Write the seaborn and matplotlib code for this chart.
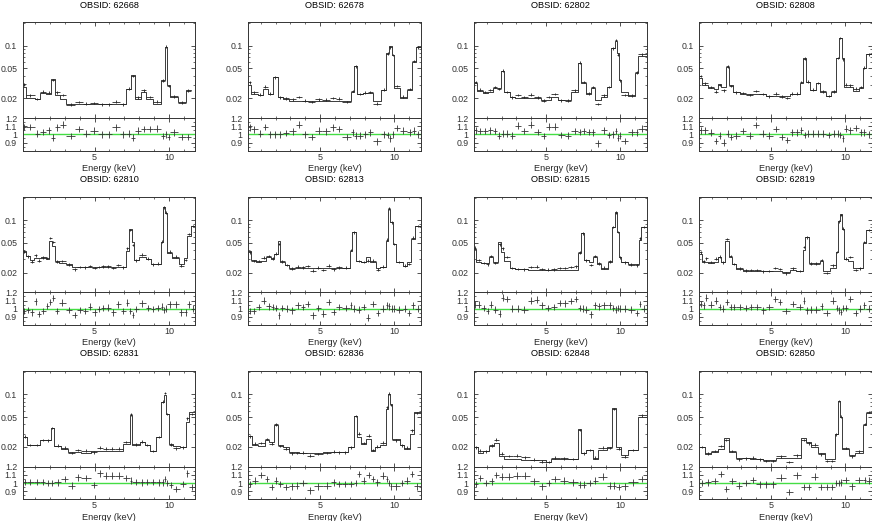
import numpy as np
import pandas as pd
import seaborn as sns
import matplotlib.pyplot as plt
from matplotlib.ticker import (FixedLocator, FixedFormatter, MultipleLocator,
                               LogLocator, NullFormatter)

# OBSID order, row by row
obsids = ["62668", "62678", "62802", "62808",
          "62810", "62813", "62815", "62819",
          "62831", "62836", "62848", "62850"]

# bin edges (keV), model counts per bin, data/model ratio per bin
edges_62668 = [0.17, 0.36, 0.97, 1.31, 1.75, 2.09, 2.31, 2.65, 3.10, 3.70, 4.20, 4.70, 5.25, 5.70, 6.20,
               6.70, 7.10, 7.47, 7.70, 8.14, 8.48, 8.93, 9.49, 9.76, 9.89, 10.10, 10.61, 11.17, 11.46]
model_62668 = [0.028, 0.020, 0.0194, 0.0238, 0.0226, 0.0365, 0.022, 0.0196, 0.0168, 0.0168, 0.0167, 0.0166,
               0.0166, 0.0166, 0.0166, 0.0166, 0.0266, 0.041, 0.0196, 0.024, 0.0194, 0.0168, 0.035, 0.097,
               0.030, 0.0206, 0.018, 0.026]
ratio_62668 = [1.09, 1.09, 1.01, 1.03, 1.05, 0.96, 1.085, 1.12, 0.98, 1.065, 1.01, 1.045, 1.0, 1.0, 1.085,
               1.0, 1.01, 0.96, 1.045, 1.065, 1.065, 1.07, 0.98, 1.0, 0.97, 1.025, 0.97, 0.97]

edges_62678 = [0.17, 0.36, 0.81, 1.15, 1.49, 1.82, 2.16, 2.49, 2.94, 3.35, 3.80, 4.20, 4.65, 5.15, 5.65,
               6.05, 6.50, 7.09, 7.31, 7.49, 7.88, 8.20, 8.55, 9.11, 9.45, 9.62, 9.83, 9.94, 10.34, 10.84,
               11.19, 11.42, 11.77]
model_62678 = [0.030, 0.0227, 0.022, 0.0262, 0.023, 0.038, 0.0205, 0.0196, 0.0186, 0.0185, 0.0185, 0.0185,
               0.0185, 0.0185, 0.0185, 0.0185, 0.0185, 0.0244, 0.054, 0.023, 0.0237, 0.0237, 0.0185, 0.026,
               0.079, 0.10, 0.075, 0.027, 0.020, 0.026, 0.06, 0.095]
ratio_62678 = [1.085, 1.06, 1.01, 1.09, 1.0, 1.0, 1.0, 1.015, 1.035, 1.12, 1.0, 0.965, 1.045, 1.035, 1.085,
               1.065, 0.965, 1.025, 0.985, 0.985, 1.0, 1.025, 0.915, 1.0, 0.99, 0.95, 1.0, 1.08, 1.045,
               1.025, 1.045, 1.0]

edges_62802 = [0.17, 0.36, 0.75, 1.08, 1.42, 1.70, 1.98, 2.20, 2.54, 2.88, 3.30, 3.75, 4.20, 4.67, 5.00,
               5.34, 5.79, 6.25, 6.69, 7.14, 7.36, 7.70, 8.03, 8.30, 8.71, 9.11, 9.38, 9.60, 9.74, 9.87,
               10.05, 10.50, 10.99, 11.17, 11.77]
model_62802 = [0.0315, 0.0249, 0.0232, 0.0244, 0.027, 0.027, 0.046, 0.024, 0.0209, 0.0199, 0.0199, 0.0199,
               0.0199, 0.0189, 0.0189, 0.0209, 0.0189, 0.0189, 0.0244, 0.058, 0.0315, 0.0225, 0.0276,
               0.0189, 0.0209, 0.0284, 0.092, 0.115, 0.079, 0.035, 0.024, 0.0213, 0.043, 0.072]
ratio_62802 = [1.05, 1.04, 1.04, 1.05, 1.04, 0.985, 1.01, 1.01, 0.985, 1.105, 1.04, 1.12, 1.03, 0.98,
               1.095, 1.095, 0.99, 0.985, 1.04, 1.03, 1.04, 1.03, 1.025, 0.89, 1.05, 0.99, 1.0, 1.04,
               0.96, 0.985, 0.92, 1.025, 1.025, 1.07]

edges_62808 = [0.17, 0.36, 0.75, 1.19, 1.42, 1.64, 1.98, 2.20, 2.43, 2.88, 3.30, 3.80, 4.20, 4.67, 5.10,
               5.50, 5.90, 6.24, 6.60, 6.91, 7.14, 7.36, 7.63, 7.99, 8.26, 8.71, 9.04, 9.38, 9.56, 9.74,
               9.87, 10.16, 10.50, 10.90, 11.17, 11.35, 11.77]
model_62808 = [0.0375, 0.0299, 0.0276, 0.0265, 0.0305, 0.0284, 0.0525, 0.030, 0.0244, 0.0225, 0.0225,
               0.0225, 0.0225, 0.0216, 0.0216, 0.0216, 0.0216, 0.0225, 0.0225, 0.0315, 0.068, 0.033,
               0.0257, 0.0315, 0.0244, 0.0216, 0.0244, 0.068, 0.128, 0.069, 0.0284, 0.0284, 0.0249,
               0.0276, 0.05, 0.077]
ratio_62808 = [1.05, 1.05, 1.02, 0.92, 0.985, 0.9, 1.01, 0.97, 0.985, 1.04, 0.985, 1.115, 1.01, 0.985,
               1.065, 0.97, 0.93, 1.025, 1.025, 1.05, 0.99, 1.01, 1.01, 1.01, 1.01, 0.99, 1.01, 1.01,
               0.99, 0.95, 1.07, 1.05, 1.08, 1.025, 1.025, 1.0]

edges_62810 = [0.17, 0.36, 0.63, 0.92, 1.15, 1.37, 1.71, 1.93, 2.11, 2.34, 2.61, 3.05, 3.50, 3.85, 4.20,
               4.55, 4.85, 5.15, 5.45, 5.75, 6.10, 6.45, 6.75, 7.09, 7.31, 7.49, 7.65, 7.99, 8.44, 8.77,
               9.10, 9.45, 9.60, 9.71, 9.89, 10.23, 10.68, 11.01, 11.24, 11.46, 11.77]
model_62810 = [0.039, 0.0335, 0.0293, 0.031, 0.031, 0.0325, 0.0303, 0.053, 0.0455, 0.0288, 0.0265, 0.026,
               0.024, 0.024, 0.024, 0.024, 0.024, 0.024, 0.024, 0.024, 0.024, 0.024, 0.024, 0.039, 0.076,
               0.0505, 0.0293, 0.0325, 0.0303, 0.026, 0.026, 0.0505, 0.15, 0.126, 0.036, 0.031, 0.026,
               0.031, 0.062, 0.084]
ratio_62810 = [0.975, 0.985, 0.955, 1.09, 0.935, 0.975, 1.035, 1.085, 1.13, 0.975, 1.075, 0.985, 0.925,
               0.985, 0.975, 1.025, 0.955, 0.995, 1.01, 1.015, 0.955, 1.055, 0.975, 1.075, 0.975, 0.925,
               0.995, 1.065, 1.01, 0.995, 1.01, 1.025, 0.985, 1.0, 1.055, 1.055, 0.955, 0.955, 1.055, 1.0]

edges_62813 = [0.17, 0.36, 0.70, 1.04, 1.37, 1.71, 1.93, 2.16, 2.27, 2.61, 2.94, 3.30, 3.70, 4.00, 4.35,
               4.70, 5.05, 5.40, 5.75, 6.10, 6.50, 6.98, 7.16, 7.43, 7.76, 8.10, 8.37, 8.73, 9.00, 9.40,
               9.56, 9.71, 9.89, 10.07, 10.57, 10.83, 11.13, 11.35, 11.77]
model_62813 = [0.0383, 0.0293, 0.028, 0.0287, 0.0325, 0.0303, 0.0353, 0.052, 0.028, 0.0254, 0.023, 0.023,
               0.023, 0.023, 0.023, 0.023, 0.023, 0.023, 0.023, 0.023, 0.023, 0.0383, 0.0686, 0.0287,
               0.0273, 0.0325, 0.0273, 0.023, 0.024, 0.053, 0.14, 0.093, 0.048, 0.028, 0.0247, 0.0273,
               0.056, 0.084]
ratio_62813 = [0.97, 0.97, 1.02, 1.1, 1.03, 1.02, 1.01, 0.92, 1.01, 1.0, 0.98, 1.04, 1.02, 1.06, 0.92,
               1.01, 0.94, 1.08, 0.96, 1.02, 1.01, 1.04, 1.0, 0.99, 1.02, 0.89, 1.06, 0.95, 1.0, 1.04,
               1.03, 1.0, 1.0, 0.99, 1.0, 0.95, 1.04, 1.0]

edges_62815 = [0.17, 0.30, 0.63, 0.95, 1.19, 1.42, 1.75, 1.98, 2.20, 2.54, 2.88, 3.30, 3.77, 4.20, 4.55,
               4.95, 5.30, 5.70, 6.10, 6.50, 6.85, 7.14, 7.36, 7.54, 7.85, 8.14, 8.44, 8.70, 9.15, 9.42,
               9.60, 9.74, 9.87, 10.05, 10.50, 10.95, 11.22, 11.40, 11.77]
model_62815 = [0.0411, 0.028, 0.0265, 0.0265, 0.0319, 0.0273, 0.0505, 0.0371, 0.0287, 0.023, 0.0224,
               0.0224, 0.0216, 0.0216, 0.0216, 0.0216, 0.0216, 0.0216, 0.0216, 0.0216, 0.0216, 0.037,
               0.0665, 0.0293, 0.0273, 0.0319, 0.0257, 0.0224, 0.0273, 0.08, 0.127, 0.069, 0.0319,
               0.0273, 0.0257, 0.0262, 0.054, 0.081]
ratio_62815 = [1.05, 1.05, 1.01, 0.97, 1.05, 0.99, 0.94, 1.135, 1.12, 1.0, 1.0, 0.99, 1.1, 1.11, 1.04,
               1.01, 1.02, 1.07, 1.065, 1.095, 1.12, 1.01, 1.0, 0.99, 0.93, 1.04, 1.03, 1.04, 1.04, 1.01,
               0.99, 1.01, 1.0, 1.0, 0.99, 0.95, 1.06, 1.0]

edges_62819 = [0.17, 0.36, 0.55, 0.75, 1.19, 1.42, 1.64, 1.93, 2.16, 2.38, 2.65, 3.10, 3.50, 3.85, 4.30,
               4.67, 5.10, 5.45, 5.75, 6.24, 6.69, 7.14, 7.31, 7.54, 7.81, 8.26, 8.52, 8.93, 9.33, 9.49,
               9.60, 9.74, 9.87, 10.16, 10.50, 10.85, 11.17, 11.35, 11.77]
model_62819 = [0.0352, 0.0273, 0.0273, 0.0265, 0.028, 0.0319, 0.0273, 0.052, 0.0325, 0.0257, 0.0224,
               0.0212, 0.0212, 0.0212, 0.0212, 0.0207, 0.0207, 0.0207, 0.0202, 0.0216, 0.0207, 0.0398,
               0.06, 0.0265, 0.0265, 0.0287, 0.0207, 0.0228, 0.0371, 0.098, 0.122, 0.076, 0.0303, 0.0287,
               0.0228, 0.0228, 0.049, 0.074]
ratio_62819 = [1.06, 1.04, 1.135, 1.05, 1.1, 1.02, 1.0, 1.08, 1.02, 1.02, 1.02, 1.01, 1.02, 1.02, 0.98,
               1.02, 1.12, 1.08, 0.97, 1.06, 1.02, 1.1, 0.98, 0.99, 0.99, 1.03, 0.95, 1.1, 1.01, 0.98,
               0.96, 1.01, 1.01, 1.12, 0.95, 1.0, 1.04, 1.0]

edges_62831 = [0.17, 0.48, 0.90, 1.31, 1.70, 2.05, 2.27, 2.76, 3.21, 3.70, 4.11, 4.78, 5.20, 5.57, 6.00,
               6.35, 6.91, 7.36, 7.52, 8.03, 8.37, 8.70, 9.15, 9.49, 9.67, 9.83, 9.98, 10.27, 10.72,
               11.17, 11.33, 11.77]
model_62831 = [0.027, 0.0209, 0.0209, 0.0244, 0.0244, 0.0356, 0.0206, 0.0186, 0.0171, 0.0171, 0.0168,
               0.0174, 0.0174, 0.0174, 0.0174, 0.0174, 0.022, 0.0525, 0.0214, 0.0232, 0.0209, 0.0174,
               0.027, 0.079, 0.099, 0.055, 0.022, 0.0206, 0.020, 0.043, 0.058]
ratio_62831 = [1.015, 1.015, 1.015, 1.015, 1.0, 1.0, 1.01, 1.05, 0.97, 1.07, 1.06, 0.975, 1.12, 1.09,
               1.09, 1.09, 1.06, 1.03, 1.015, 1.01, 1.015, 1.015, 1.01, 1.01, 1.05, 1.0, 0.975, 0.93,
               0.99, 1.12, 0.95]

edges_62836 = [0.17, 0.43, 0.81, 1.26, 1.55, 1.93, 2.16, 2.49, 2.94, 3.30, 3.61, 4.10, 4.60, 5.18, 5.70,
               6.10, 6.50, 6.87, 7.31, 7.47, 7.76, 8.10, 8.44, 8.66, 9.00, 9.45, 9.56, 9.67, 9.80, 10.34,
               10.61, 11.06, 11.29, 11.77]
model_62836 = [0.0279, 0.0214, 0.0206, 0.0244, 0.0232, 0.0387, 0.0209, 0.020, 0.0171, 0.0171, 0.0168,
               0.0168, 0.0168, 0.0171, 0.0171, 0.0171, 0.0171, 0.020, 0.0515, 0.027, 0.022, 0.0257,
               0.0174, 0.020, 0.0209, 0.064, 0.102, 0.075, 0.0255, 0.0209, 0.019, 0.030, 0.059]
ratio_62836 = [0.99, 1.03, 1.1, 1.05, 0.95, 1.03, 0.99, 0.95, 0.96, 0.97, 1.0, 0.91, 0.96, 0.97, 1.01,
               0.99, 0.99, 0.99, 1.0, 1.11, 1.03, 1.1, 1.05, 1.01, 1.09, 1.05, 1.0, 0.96, 0.96, 1.0,
               1.03, 1.11, 0.96]

edges_62848 = [0.17, 0.41, 0.75, 1.19, 1.49, 1.82, 2.20, 2.75, 3.32, 3.90, 4.50, 5.01, 5.34, 5.90, 6.50,
               7.14, 7.36, 7.70, 8.14, 8.48, 9.11, 9.42, 9.71, 10.05, 10.50, 11.17, 11.77]
model_62848 = [0.020, 0.0168, 0.0174, 0.0206, 0.0228, 0.0151, 0.014, 0.014, 0.0133, 0.0133, 0.0133,
               0.0126, 0.0137, 0.0137, 0.0137, 0.0342, 0.0168, 0.0181, 0.014, 0.0181, 0.020, 0.0658,
               0.020, 0.0154, 0.0181, 0.05]
ratio_62848 = [0.99, 1.06, 1.0, 1.02, 1.1, 1.08, 1.08, 1.09, 1.09, 1.02, 0.96, 1.0, 1.05, 1.03, 1.01,
               0.98, 0.98, 1.0, 1.03, 1.08, 0.97, 0.97, 0.95, 0.96, 1.01, 1.05]

edges_62850 = [0.17, 0.52, 0.97, 1.42, 1.80, 2.14, 2.61, 3.05, 3.55, 4.00, 4.44, 4.90, 5.34, 6.01, 6.45,
               7.02, 7.36, 7.70, 8.14, 8.59, 8.95, 9.27, 9.49, 9.60, 9.78, 10.23, 10.61, 11.17, 11.40,
               11.77]
model_62850 = [0.0199, 0.0162, 0.0172, 0.0185, 0.0265, 0.0172, 0.0141, 0.0141, 0.0138, 0.0138, 0.0132,
               0.0132, 0.0141, 0.0141, 0.0141, 0.026, 0.0235, 0.0199, 0.0168, 0.0136, 0.0136, 0.0294,
               0.0815, 0.05, 0.0185, 0.0156, 0.0168, 0.039, 0.057]
ratio_62850 = [1.0, 1.01, 1.025, 1.11, 0.93, 1.025, 0.97, 1.0, 1.04, 0.985, 0.985, 0.985, 1.065, 0.89,
               1.095, 0.95, 0.95, 1.08, 0.95, 0.95, 0.95, 1.0, 1.0, 1.01, 1.04, 0.96, 1.04, 1.04, 1.03]

panels = [
    (edges_62668, model_62668, ratio_62668), (edges_62678, model_62678, ratio_62678),
    (edges_62802, model_62802, ratio_62802), (edges_62808, model_62808, ratio_62808),
    (edges_62810, model_62810, ratio_62810), (edges_62813, model_62813, ratio_62813),
    (edges_62815, model_62815, ratio_62815), (edges_62819, model_62819, ratio_62819),
    (edges_62831, model_62831, ratio_62831), (edges_62836, model_62836, ratio_62836),
    (edges_62848, model_62848, ratio_62848), (edges_62850, model_62850, ratio_62850),
]

sns.set_theme(style="ticks")
plt.rcParams["font.family"] = ["Liberation Sans", "DejaVu Sans"]
plt.rcParams.update({
    "font.size": 6.5,
    "xtick.labelsize": 6.5, "ytick.labelsize": 6.3,
    "xtick.direction": "in", "ytick.direction": "in",
    "xtick.top": True, "ytick.right": True,
    "xtick.major.size": 3, "ytick.major.size": 3,
    "xtick.minor.size": 1.6, "ytick.minor.size": 1.6,
    "xtick.major.width": 0.6, "ytick.major.width": 0.6,
    "xtick.minor.width": 0.5, "ytick.minor.width": 0.5,
    "xtick.major.pad": 1.5, "ytick.major.pad": 4,
    "axes.linewidth": 0.7, "axes.edgecolor": "#333333",
    "xtick.color": "#333333", "ytick.color": "#333333",
    "text.color": "black",
})

W, H = 872, 521
col_left = [22.7, 248.3, 474.3, 699.3]
row_top = [22.3, 196.7, 371.0]
aw, h_spec, h_rat = 172.5, 95.7, 32.7

fig = plt.figure(figsize=(W / 100, H / 100), dpi=100)

for i, (edges, model, ratio) in enumerate(panels):
    r, c = divmod(i, 4)
    x0 = col_left[c] / W
    top = row_top[r]
    ax = fig.add_axes([x0, 1 - (top + h_spec) / H, aw / W, h_spec / H])
    axr = fig.add_axes([x0, 1 - (top + h_spec + h_rat) / H, aw / W, h_rat / H], sharex=ax)

    e = np.array(edges)
    m = np.array(model)
    rt = np.array(ratio)
    cen = (e[:-1] + e[1:]) / 2
    half = (e[1:] - e[:-1]) / 2
    data = m * rt

    # model as a step histogram
    step = pd.DataFrame({"energy": e, "counts": np.append(m, m[-1])})
    sns.lineplot(data=step, x="energy", y="counts", drawstyle="steps-post", estimator=None,
                 sort=False, color="#3a3a3a", linewidth=0.7, ax=ax)
    ax.errorbar(cen, data, xerr=half, yerr=data * 0.04, fmt="none", ecolor="#222222",
                elinewidth=0.6, capsize=0)

    ax.set_yscale("log")
    ax.set_ylim(0.0109, 0.205)
    ax.set_xlim(0.17, 11.77)
    ax.yaxis.set_major_locator(FixedLocator([0.02, 0.05, 0.1]))
    ax.yaxis.set_major_formatter(FixedFormatter(["0.02", "0.05", "0.1"]))
    ax.yaxis.set_minor_locator(LogLocator(base=10, subs=np.arange(1, 10) * 1.0, numticks=20))
    ax.yaxis.set_minor_formatter(NullFormatter())
    ax.xaxis.set_major_locator(MultipleLocator(5))
    ax.xaxis.set_minor_locator(MultipleLocator(1))
    ax.tick_params(axis="x", which="both", labelbottom=False)
    ax.tick_params(which="both", top=True, right=True)
    ax.set_xlabel("")
    ax.set_ylabel("")
    ax.set_title(f"OBSID: {obsids[i]}", fontsize=6.6, pad=10.5)

    # ratio panel
    axr.axhline(1.0, color="#44dd44", linewidth=1.0, zorder=1)
    axr.errorbar(cen, rt, xerr=half, yerr=0.04, fmt="none", ecolor="#333333",
                 elinewidth=0.6, capsize=0, zorder=2)
    axr.set_ylim(0.8, 1.2)
    axr.yaxis.set_major_locator(FixedLocator([0.9, 1.0, 1.1, 1.2]))
    axr.yaxis.set_major_formatter(FixedFormatter(["0.9", "1", "1.1", "1.2"]))
    axr.yaxis.set_minor_locator(MultipleLocator(0.05))
    axr.tick_params(which="both", top=True, right=True)
    axr.tick_params(axis="x", which="both", labelbottom=True)
    axr.set_xlabel("Energy (keV)", fontsize=6.6, labelpad=1.5)

fig.savefig("out.png", dpi=100)
